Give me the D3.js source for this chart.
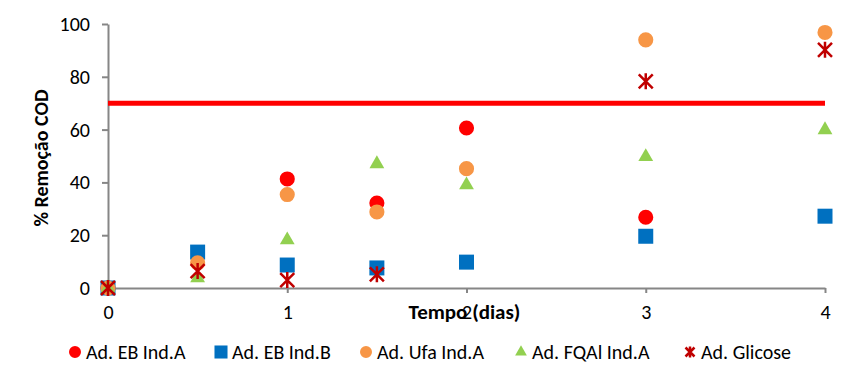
<!DOCTYPE html>
<html>
<head>
<meta charset="utf-8">
<script src="https://cdn.jsdelivr.net/npm/d3@7"></script>
<style>
  body { margin: 0; background: #fff; }
  svg text { font-family: Carlito, Calibri, "Open Sans", sans-serif; }
</style>
</head>
<body>
<svg id="chart" width="853" height="384"></svg>
<script>
'use strict';
// data
var seriesNames = ['Ad. EB Ind.A', 'Ad. EB Ind.B', 'Ad. Ufa Ind.A', 'Ad. FQAl Ind.A', 'Ad. Glicose'];
var ebA = [[0, 0], [1, 41.3], [1.5, 32.2], [2, 60.6], [3, 26.8]];
var ebB = [[0, 0], [0.5, 13.6], [1, 8.7], [1.5, 7.6], [2, 9.8], [3, 19.6], [4, 27.2]];
var ufaA = [[0, 0], [0.5, 9.5], [1, 35.4], [1.5, 28.8], [2, 45.2], [3, 94], [4, 96.8]];
var fqalA = [[0, 0], [0.5, 3.8], [1, 18.2], [1.5, 47], [2, 39], [3, 49.7], [4, 59.9]];
var glicose = [[0, 0], [0.5, 6.4], [1, 3], [1.5, 5.2], [3, 78.3], [4, 90.2]];
var threshold = 70;
var xTicks = [0, 1, 2, 3, 4];
var yTicks = [0, 20, 40, 60, 80, 100];

var svg = d3.select('#chart');
var margin = {left: 108, right: 28, top: 24, bottom: 96};
var width = 853 - margin.left - margin.right,
    height = 384 - margin.top - margin.bottom;
var axisColor = '#868686';

var x = d3.scaleLinear().domain([0, 4]).range([0, width]);
var y = d3.scaleLinear().domain([0, 100]).range([height, 0]);

var g = svg.append('g')
    .attr('transform', 'translate(' + margin.left + ',' + margin.top + ')');

// axes
var yAxis = g.append('g')
    .call(d3.axisLeft(y).tickValues(yTicks).tickSizeInner(6).tickSizeOuter(0).tickPadding(12));
var xAxis = g.append('g')
    .attr('transform', 'translate(0,' + height + ')')
    .call(d3.axisBottom(x).tickValues(xTicks).tickFormat(d3.format('d'))
        .tickSizeInner(5).tickSizeOuter(0).tickPadding(12));
[xAxis, yAxis].forEach(function(a) {
    a.select('.domain').attr('stroke', axisColor).attr('stroke-width', 2);
    a.selectAll('.tick line').attr('stroke', axisColor).attr('stroke-width', 2);
    a.selectAll('.tick text').attr('fill', '#000').style('font-size', '20px');
});

// axis titles
g.append('text')
    .attr('transform', 'translate(-60,' + (height / 2 + 2) + ') rotate(-90)')
    .attr('text-anchor', 'middle')
    .style('font-size', '20px')
    .style('font-weight', 'bold')
    .text('% Remoção COD');
g.append('text')
    .attr('x', x(2) - 2)
    .attr('y', height + 31)
    .attr('text-anchor', 'middle')
    .style('font-size', '21px')
    .style('font-weight', 'bold')
    .text('Tempo (dias)');

// threshold line
g.append('line')
    .attr('x1', x(0)).attr('x2', x(4))
    .attr('y1', y(threshold)).attr('y2', y(threshold))
    .attr('stroke', '#ff0000').attr('stroke-width', 5);

var circleSym = d3.symbol().type(d3.symbolCircle).size(180);
var squareSym = d3.symbol().type(d3.symbolSquare).size(225);
var triSym = d3.symbol().type(d3.symbolTriangle).size(95);

function drawSeries(data, sym, color) {
    g.append('g').selectAll('path')
        .data(data).enter().append('path')
        .attr('transform', function(d) { return 'translate(' + x(d[0]) + ',' + y(d[1]) + ')'; })
        .attr('d', sym)
        .attr('fill', color);
}
function drawCross(sel, s) {
    sel.append('path')
        .attr('d', 'M' + (-s) + ',' + (-s) + 'L' + s + ',' + s + 'M' + (-s) + ',' + s + 'L' + s + ',' + (-s) + 'M0,' + (-s - 1) + 'L0,' + (s + 1))
        .attr('stroke', '#c00000')
        .attr('stroke-width', 2.5)
        .attr('fill', 'none');
}

drawSeries(ebA, circleSym, '#ff0000');
drawSeries(ebB, squareSym, '#0070c0');
drawSeries(ufaA, circleSym, '#f79646');
drawSeries(fqalA, triSym, '#92d050');
g.append('g').selectAll('g')
    .data(glicose).enter().append('g')
    .attr('transform', function(d) { return 'translate(' + x(d[0]) + ',' + y(d[1]) + ')'; })
    .each(function() { drawCross(d3.select(this), 7); });

// legend
var legendX = [75, 221, 366, 521, 690];
var legend = svg.append('g').attr('transform', 'translate(0,352)');
var legendSyms = [
    {sym: d3.symbol().type(d3.symbolCircle).size(113), color: '#ff0000'},
    {sym: d3.symbol().type(d3.symbolSquare).size(170), color: '#0070c0'},
    {sym: d3.symbol().type(d3.symbolCircle).size(113), color: '#f79646'},
    {sym: d3.symbol().type(d3.symbolTriangle).size(60), color: '#92d050'},
    null
];
seriesNames.forEach(function(name, i) {
    var item = legend.append('g').attr('transform', 'translate(' + legendX[i] + ',0)');
    if (legendSyms[i]) {
        item.append('path').attr('d', legendSyms[i].sym).attr('fill', legendSyms[i].color);
    } else {
        drawCross(item, 4.5);
    }
    item.append('text')
        .attr('x', 11)
        .attr('y', 7)
        .style('font-size', '20px')
        .text(name);
});
</script>
</body>
</html>
